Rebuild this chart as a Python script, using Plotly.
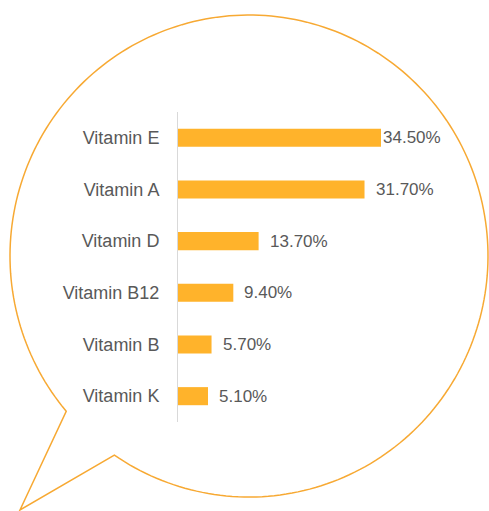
import numpy as np
import plotly.graph_objects as go

categories = ["Vitamin E", "Vitamin A", "Vitamin D", "Vitamin B12", "Vitamin B", "Vitamin K"]
values = [34.5, 31.7, 13.7, 9.4, 5.7, 5.1]
labels = [f"{v:.2f}%" for v in values]

W, H = 489, 511
L, R, T, B = 178, 61, 112, 89
pw, ph = W - L - R, H - T - B
FONT = "Liberation Sans, Arial, sans-serif"

def to_paper(px, py):
    return (px - L) / pw, (H - B - py) / ph

# speech bubble outline
cx, cy, rx, ry = 249, 256, 239, 241
a0 = np.degrees(np.arctan2(411 - cy, 65 - cx))
a1 = np.degrees(np.arctan2(454 - cy, 114 - cx)) + 360
angs = np.radians(np.linspace(a0, a1, 240))
pts = [(cx + rx * np.cos(a), cy + ry * np.sin(a)) for a in angs]
pts.append((20, 510))
path = ""
for i, (px, py) in enumerate(pts):
    x, y = to_paper(px, py)
    path += ("M" if i == 0 else "L") + f"{x:.5f},{y:.5f} "
path += "Z"

fig = go.Figure()
fig.add_trace(go.Bar(
    x=values, y=categories, orientation="h",
    marker=dict(color="#FFB32B", line=dict(width=0)),
    width=0.35,
    hoverinfo="skip",
))
for i, (c, v, t) in enumerate(zip(categories, values, labels)):
    fig.add_annotation(x=v, y=c, text=t, showarrow=False, xanchor="left",
                       xshift=0 if i == 0 else 9,
                       font=dict(family=FONT, size=17, color="#595959"))
fig.add_shape(type="path", path=path, xref="paper", yref="paper",
              line=dict(color="#F7A933", width=1.5), fillcolor="rgba(0,0,0,0)", layer="below")
fig.update_layout(
    width=W, height=H,
    margin=dict(l=L, r=R, t=T, b=B),
    paper_bgcolor="white", plot_bgcolor="white",
    showlegend=False,
    xaxis=dict(range=[0, pw / (203 / 34.5)], visible=False, showgrid=False, zeroline=False),
    yaxis=dict(categoryorder="array", categoryarray=categories[::-1],
               showline=True, linecolor="#D9D9D9", linewidth=1,
               ticks="outside", ticklen=14, tickcolor="rgba(0,0,0,0)",
               showgrid=False, zeroline=False,
               tickfont=dict(family=FONT, size=18, color="#595959")),
    font=dict(family=FONT),
)
fig.write_html("out.html", config={"displayModeBar": False},
               post_script="document.body.style.margin='0';")
